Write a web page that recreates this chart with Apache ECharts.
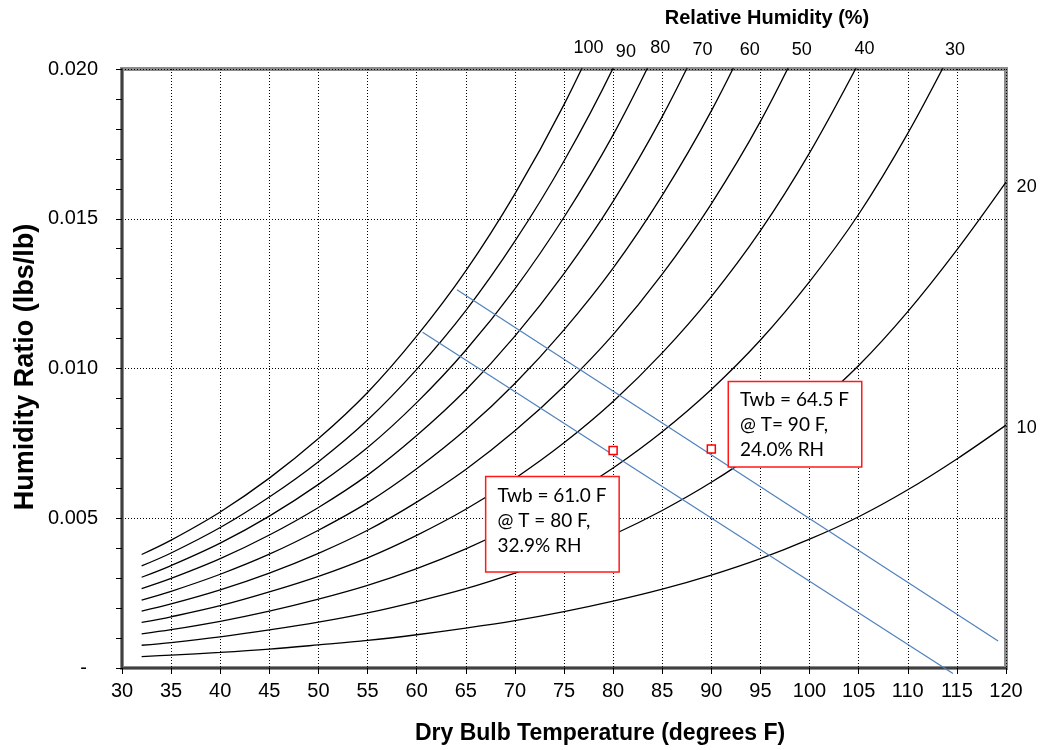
<!DOCTYPE html>
<html>
<head>
<meta charset="utf-8">
<script src="https://cdn.jsdelivr.net/npm/echarts@6/dist/echarts.min.js"></script>
<style>
html,body{margin:0;padding:0;background:#fff;}
#chart{width:1041px;height:750px;}
</style>
</head>
<body>
<div id="chart"></div>
<script>
// Dry bulb temperatures (F)
var temps = [32,35,40,45,50,55,60,65,70,75,80,85,90,95,100,105,110,115,120];
// Humidity ratio (lb/lb) along each relative humidity curve
var rh100 = [0.00379,0.00427,0.00521,0.00634,0.00766,0.00920,0.01108,0.01326,0.01583,0.01881,0.02225];
var rh90  = [0.00341,0.00384,0.00469,0.00571,0.00689,0.00828,0.00997,0.01193,0.01425,0.01693,0.02003,0.02367];
var rh80  = [0.00303,0.00342,0.00417,0.00507,0.00613,0.00736,0.00886,0.01061,0.01266,0.01505,0.01780,0.02104];
var rh70  = [0.00265,0.00299,0.00365,0.00444,0.00536,0.00644,0.00776,0.00928,0.01108,0.01317,0.01558,0.01841,0.02170];
var rh60  = [0.00227,0.00256,0.00313,0.00380,0.00460,0.00552,0.00665,0.00796,0.00950,0.01129,0.01335,0.01578,0.01860,0.02190];
var rh50  = [0.00190,0.00214,0.00261,0.00317,0.00383,0.00460,0.00554,0.00663,0.00792,0.00941,0.01113,0.01315,0.01550,0.01825,0.02150];
var rh40  = [0.00152,0.00171,0.00208,0.00254,0.00306,0.00368,0.00443,0.00530,0.00633,0.00752,0.00890,0.01052,0.01240,0.01460,0.01720,0.02020];
var rh30  = [0.00114,0.00128,0.00156,0.00190,0.00230,0.00276,0.00332,0.00398,0.00475,0.00564,0.00668,0.00789,0.00930,0.01095,0.01290,0.01515,0.01785,0.02094];
var rh20  = [0.00076,0.00085,0.00104,0.00127,0.00153,0.00184,0.00222,0.00265,0.00317,0.00376,0.00445,0.00526,0.00620,0.00730,0.00860,0.01010,0.01190,0.01396,0.01622];
var rh10  = [0.00038,0.00043,0.00052,0.00063,0.00077,0.00092,0.00111,0.00133,0.00158,0.00188,0.00223,0.00263,0.00310,0.00365,0.00430,0.00505,0.00595,0.00698,0.00811];
var rhCurves = [rh100,rh90,rh80,rh70,rh60,rh50,rh40,rh30,rh20,rh10];
var rhNames = ['100','90','80','70','60','50','40','30','20','10'];
// RH label anchor points [T, W]
var rhLabelT = [77.5,81.3,84.8,89.1,93.9,99.2,105.6,114.8,122.1,122.1];
var rhLabelW = [0.02071,0.02058,0.02071,0.02064,0.02064,0.02064,0.02068,0.02064,0.01607,0.00802];
// Wet bulb lines (endpoints [T, W])
var wb61  = [[60.6,0.01121],[114.6,-0.00018]];
var wb645 = [[64.1,0.01263],[119.2,0.00090]];
// State points
var stateT = [80,90];
var stateW = [0.00726,0.00731];
// Annotation boxes (top-left anchor [T, W]) and texts
var noteT = [67.1,91.8];
var noteW = [0.00637,0.00954];
var noteText = [
  ['Twb = 61.0 F','@ T = 80 F,','32.9% RH'],
  ['Twb = 64.5 F','@ T= 90 F,','24.0% RH']
];
var xTicks = {min:30,max:120,interval:5};
var yTicks = {min:0,max:0.02,interval:0.005};

var FONT = "'Liberation Sans', Arial, sans-serif";
var series = [];
rhCurves.forEach(function(c, i){
  series.push({
    name: 'RH ' + rhNames[i], type: 'line', smooth: 0.35, showSymbol: false,
    silent: true, z: 3,
    lineStyle: {color: '#000', width: 1.3},
    data: c.map(function(w, j){ return [temps[j], w]; })
  });
});
series.push({
  name: 'Twb 61.0', type: 'line', showSymbol: false, silent: true, z: 4, clip: false,
  lineStyle: {color: '#4f81bd', width: 1.2}, data: wb61
});
series.push({
  name: 'Twb 64.5', type: 'line', showSymbol: false, silent: true, z: 4,
  lineStyle: {color: '#4f81bd', width: 1.2}, data: wb645
});
series.push({
  name: 'State', type: 'scatter', symbol: 'rect', symbolSize: 8, z: 6,
  itemStyle: {color: '#fff', borderColor: '#ff0000', borderWidth: 1.5, opacity: 1},
  data: stateT.map(function(t, i){ return [t, stateW[i]]; })
});
series.push({
  name: 'RH labels', type: 'scatter', symbolSize: 0, clip: false, silent: true, z: 7,
  itemStyle: {opacity: 1},
  label: {show: true, position: 'inside', color: '#000', fontFamily: FONT, fontSize: 18,
    formatter: function(p){ return p.value[2]; }},
  data: rhLabelT.map(function(t, i){ return [t, rhLabelW[i], rhNames[i]]; })
});
series.push({
  name: 'Notes', type: 'scatter', symbolSize: 0, clip: false, silent: true, z: 8,
  itemStyle: {opacity: 1},
  label: {show: true, position: [0, 0], align: 'left', verticalAlign: 'top',
    color: '#000', fontFamily: "Lato, 'Open Sans', sans-serif", fontSize: 19, lineHeight: 25,
    backgroundColor: '#fff', borderColor: '#ff1a1a', borderWidth: 1.5,
    width: 113,
    formatter: function(p){ return p.value[2]; }},
  data: noteT.map(function(t, i){
    return {value: [t, noteW[i], noteText[i].join('\n')],
      label: {padding: i === 0 ? [6, 8, 13, 11] : [5, 8, 4, 11]}};
  })
});

var chart = echarts.init(document.getElementById('chart'), null, {renderer: 'canvas'});
chart.setOption({
  animation: false,
  backgroundColor: '#fff',
  grid: {left: 122, right: 35, top: 69, bottom: 82, show: true, borderColor: '#8c8c8c', borderWidth: 4, backgroundColor: 'transparent'},
  xAxis: {
    type: 'value', min: xTicks.min, max: xTicks.max, interval: xTicks.interval,
    axisLine: {show: true, onZero: false, lineStyle: {color: '#404040', width: 2}},
    axisTick: {show: true, length: 6, lineStyle: {color: '#000', width: 1}},
    axisLabel: {color: '#000', fontFamily: FONT, fontSize: 20, margin: 13},
    splitLine: {show: true, lineStyle: {color: '#000', width: 1, type: [1, 2]}}
  },
  yAxis: {
    type: 'value', min: yTicks.min, max: yTicks.max, interval: yTicks.interval,
    axisLine: {show: true, onZero: false, lineStyle: {color: '#404040', width: 2}},
    axisTick: {show: true, length: 6, lineStyle: {color: '#000', width: 1}},
    minorTick: {show: true, splitNumber: 5, length: 6, lineStyle: {color: '#000', width: 1}},
    axisLabel: {color: '#000', fontFamily: FONT, fontSize: 20, margin: 24,
      formatter: function(v){ return v === 0 ? '-  ' : v.toFixed(3); }},
    splitLine: {show: true, lineStyle: {color: '#000', width: 1, type: [1, 2]}}
  },
  graphic: [
    {type: 'text', x: 600, y: 734, style: {text: 'Dry Bulb Temperature (degrees F)', font: 'bold 23px ' + FONT, fill: '#000', textAlign: 'center', textVerticalAlign: 'middle'}},
    {type: 'text', x: 26, y: 367, rotation: Math.PI/2, style: {text: 'Humidity Ratio (lbs/lb)', font: 'bold 27px ' + FONT, fill: '#000', textAlign: 'center', textVerticalAlign: 'middle'}},
    {type: 'text', x: 767, y: 18, style: {text: 'Relative Humidity (%)', font: 'bold 20px ' + FONT, fill: '#000', textAlign: 'center', textVerticalAlign: 'middle'}}
  ],
  series: series
});
</script>
</body>
</html>
